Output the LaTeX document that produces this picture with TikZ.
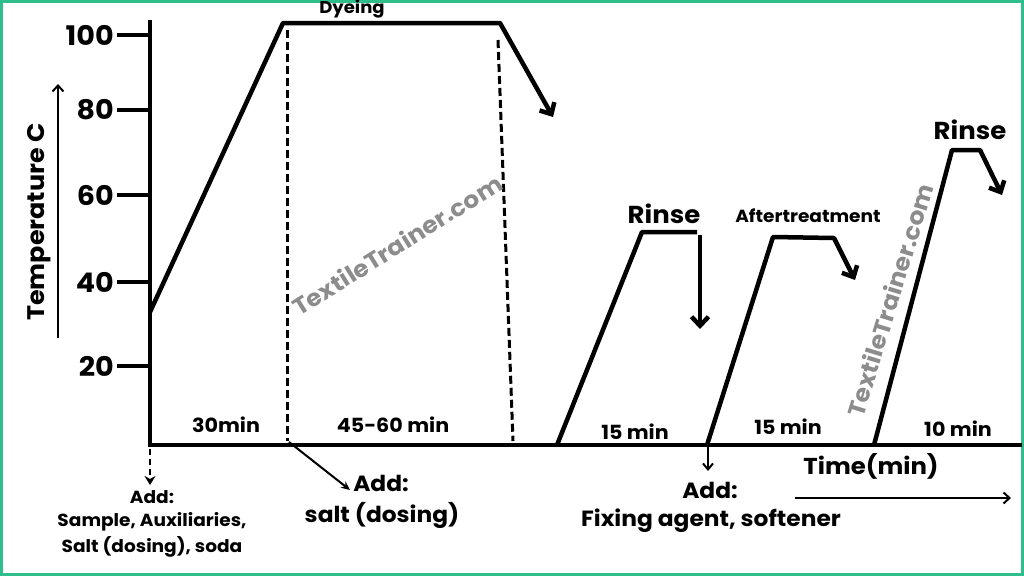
\documentclass[tikz,border=0pt]{standalone}
\usepackage{fontspec}
\setmainfont{Poppins}[FakeStretch=1.06]
\usetikzlibrary{arrows.meta}
\definecolor{frame}{HTML}{2DBE8C}
\definecolor{wm}{HTML}{8C8C8C}
\newcommand{\fsz}[1]{\bfseries\fontsize{#1}{#1}\selectfont}
\begin{document}
\begin{tikzpicture}[x=1pt,y=-1pt,
  curve/.style={line width=4.5pt, line join=round},
  curvearr/.style={curve, -{Straight Barb[length=9pt,width=17pt,line width=4.5pt]}},
  axis/.style={line width=4.5pt},
  tick/.style={line width=4pt},
  dashln/.style={line width=3pt, dash pattern=on 8pt off 4pt},
  thinarr/.style={line width=2pt, -{Stealth[length=9pt,width=8pt]}},
  lbl/.style={inner sep=0pt, anchor=center},
  wmark/.style={text=wm, inner sep=0pt}]
\useasboundingbox (0,0) rectangle (1024,576);
\draw[frame, line width=3pt] (1.5,1.5) rectangle (1022.5,574.5);
% axes
\coordinate (ytop) at (150,20);
\coordinate (orig) at (150,445);
\coordinate (xend) at (1022,445);
\draw[axis] (ytop) -- (orig) -- (xend);
% ticks and labels
\foreach \v/\y in {100/35,80/110,60/195,40/282,20/366}{
  \coordinate (t\v a) at (117,\y);
  \coordinate (t\v b) at (149,\y);
  \draw[tick] (t\v a) -- (t\v b);
  \node[lbl, anchor=east, font=\fsz{27}] (l\v) at (114,\y) {\v};
}
% y label
\node[lbl, rotate=90, font=\fsz{24}] (ylab) at (39,222) {Temperature C};
\coordinate (ya1) at (58,338);
\coordinate (ya2) at (58,84);
\draw[line width=2pt, -{Straight Barb[length=6pt,width=11pt,line width=2pt]}] (ya1) -- (ya2);
% dyeing curve
\coordinate (d0) at (150,312);
\coordinate (d1) at (283,23);
\coordinate (d2) at (500,23);
\coordinate (d3) at (553,117);
\draw[curvearr] (d0) -- (d1) -- (d2) -- (d3);
\node[lbl, font=\fsz{17}] (dye) at (352,9) {Dyeing};
% dashed lines
\coordinate (da1) at (287,30);
\coordinate (da2) at (287,441);
\coordinate (db1) at (498,40);
\coordinate (db2) at (513,441);
\draw[dashln] (da1) -- (da2);
\draw[dashln] (db1) -- (db2);
\node[lbl, font=\fsz{19.5}] (m30) at (226,425) {30min};
\node[lbl, font=\fsz{19.5}] (m45) at (393,425) {45-60 min};
% add salt arrow
\coordinate (sa) at (289,442);
\coordinate (sb) at (350,490);
\draw[thinarr] (sa) -- (sb);
\node[lbl, font=\fsz{22}] (add2) at (381,483) {Add:};
\node[lbl, font=\fsz{22}] (salt) at (382,515) {salt (dosing)};
% add sample dashed arrow
\coordinate (aa) at (150,449);
\coordinate (ab) at (150,485);
\draw[line width=2.4pt, dash pattern=on 6pt off 4pt, -{Stealth[length=9pt,width=11pt]}] (aa) -- (ab);
\node[lbl, font=\fsz{17.5}] (add1) at (152,497) {Add:};
\node[lbl, font=\fsz{17.5}] (samp) at (152,522) {Sample, Auxiliaries,};
\node[lbl, font=\fsz{17.5}] (sdos) at (152,547) {Salt (dosing), soda};
% rinse 1
\coordinate (r0) at (557,445);
\coordinate (r1) at (642,232);
\coordinate (r2) at (697,232);
\coordinate (r3a) at (700,235);
\coordinate (r3) at (700,329);
\draw[curve] (r0) -- (r1) -- (r2);
\draw[curvearr] (r3a) -- (r3);
\node[lbl, font=\fsz{24.5}] (rin1) at (664,214) {Rinse};
% aftertreatment
\coordinate (a0) at (707,445);
\coordinate (a1) at (773,237);
\coordinate (a2) at (834,238);
\coordinate (a3) at (855,280);
\draw[curvearr] (a0) -- (a1) -- (a2) -- (a3);
\node[lbl, font=\fsz{17.5}] (aft) at (808,216) {Aftertreatment};
% rinse 2
\coordinate (q0) at (874,445);
\coordinate (q1) at (952,150);
\coordinate (q2) at (980,150);
\coordinate (q3) at (1002,195);
\draw[curvearr] (q0) -- (q1) -- (q2) -- (q3);
\node[lbl, font=\fsz{24.5}] (rin2) at (970,130) {Rinse};
% minute labels
\node[lbl, font=\fsz{19.5}] (m15a) at (635,432) {15 min};
\node[lbl, font=\fsz{19.5}] (m15b) at (788,427) {15 min};
\node[lbl, font=\fsz{19.5}] (m10) at (958,429) {10 min};
% add fixing arrow
\coordinate (fa) at (708,447);
\coordinate (fb) at (708,471);
\draw[line width=2pt, -{Straight Barb[length=6pt,width=10pt,line width=2pt]}] (fa) -- (fb);
\node[lbl, font=\fsz{22}] (add3) at (710,490) {Add:};
\node[lbl, font=\fsz{22}] (fix) at (711,521) {Fixing agent, softener};
% time label
\node[lbl, font=\fsz{23}] (time) at (871,466) {Time(min)};
\coordinate (ta) at (795,498);
\coordinate (tb) at (1011,498);
\draw[line width=2pt, -{Straight Barb[length=6pt,width=11pt,line width=2pt]}] (ta) -- (tb);
% watermarks
\node[wmark, rotate=32, font=\fsz{23.5}] (w1) at (397,245) {TextileTrainer.com};
\node[wmark, rotate=73, font=\fsz{23.5}] (w2) at (890,300) {TextileTrainer.com};
\end{tikzpicture}
\end{document}
